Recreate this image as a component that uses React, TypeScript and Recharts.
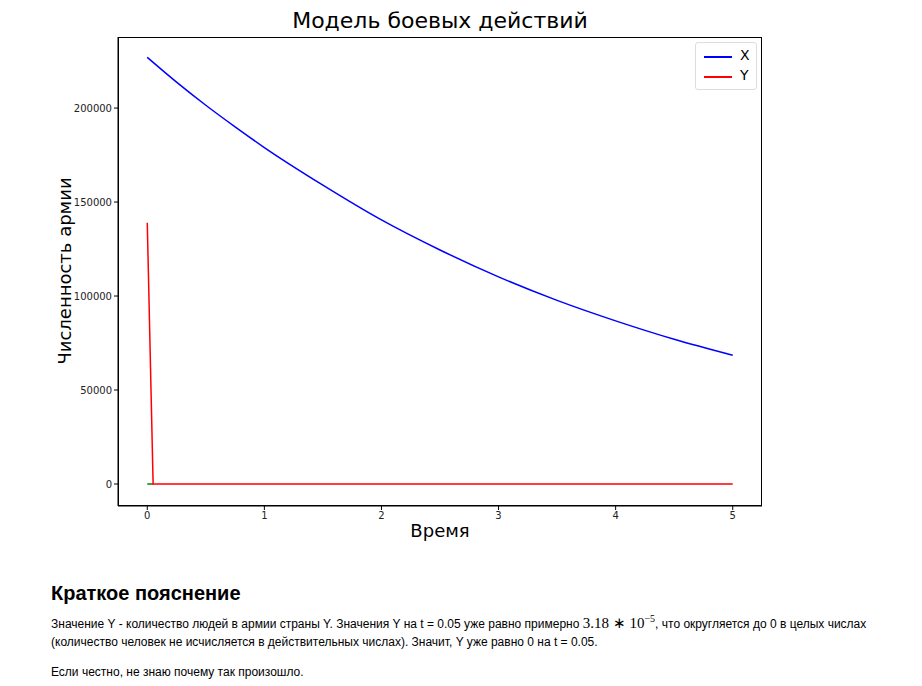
import React from "react";
import { LineChart, Line, XAxis, YAxis } from "recharts";

const times = [0, 0.05, 0.25, 0.5, 0.75, 1, 1.5, 2, 2.5, 3, 3.5, 4, 4.5, 5];
const armyX = [227000, 224300, 213800, 201500, 190000, 179000, 159000, 140500, 124500, 110200, 97700, 86800, 77000, 68500];
const armyY = [139000, 0, 0, 0, 0, 0, 0, 0, 0, 0, 0, 0, 0, 0];
const armyZ = [0, 0];
const xTicks = [0, 1, 2, 3, 4, 5];
const yTicks = [0, 50000, 100000, 150000, 200000];

const data = times.map((t, i) => ({ t, X: armyX[i], Y: armyY[i], Z: armyZ[i] }));

const tickStyle = { fontSize: 10, fill: "#222", fontFamily: "DejaVu Sans" };

export default function App() {
  return (
    <div style={{ fontFamily: "Liberation Sans, Arial, sans-serif", width: 906 }}>
      <div style={{ position: "relative", width: 780, height: 560 }}>
        <div style={{ position: "absolute", left: 110, width: 644, top: 0, textAlign: "center", fontSize: 22, fontFamily: "DejaVu Sans" }}>
          Модель боевых действий
        </div>
        <div style={{ position: "absolute", left: 56, top: 263, transform: "translate(-50%,-50%) rotate(-90deg)", whiteSpace: "nowrap", fontSize: 18, fontFamily: "DejaVu Sans" }}>
          Численность армии
        </div>
        <div style={{ position: "absolute", left: 110, width: 644, top: 512, textAlign: "center", fontSize: 18, fontFamily: "DejaVu Sans" }}>
          Время
        </div>
        <div style={{ position: "absolute", left: 110, top: 29, width: 644, height: 469, border: "1px solid #000", boxSizing: "border-box", pointerEvents: "none" }} />
        <div style={{ position: "absolute", left: 687, top: 34, width: 60, height: 46, border: "1px solid #ddd", borderRadius: 3, background: "#fff", zIndex: 2, fontFamily: "DejaVu Sans", fontSize: 14 }}>
          <div style={{ position: "absolute", left: 8, top: 13, width: 28, height: 2, background: "blue" }} />
          <div style={{ position: "absolute", left: 44, top: 4 }}>X</div>
          <div style={{ position: "absolute", left: 8, top: 33, width: 28, height: 2, background: "red" }} />
          <div style={{ position: "absolute", left: 44, top: 24 }}>Y</div>
        </div>
        <LineChart width={780} height={560} data={data} margin={{ top: 29, right: 26, left: 0, bottom: 32 }}>
          <XAxis dataKey="t" type="number" domain={[-0.25, 5.25]} ticks={xTicks} tick={tickStyle} stroke="#000" tickSize={4} height={30} />
          <YAxis type="number" domain={[-11700, 237800]} ticks={yTicks} tick={tickStyle} width={110} stroke="#000" tickSize={4} />
          <Line dataKey="Z" stroke="green" strokeWidth={1.5} dot={false} isAnimationActive={false} />
          <Line dataKey="X" stroke="blue" strokeWidth={1.5} dot={false} type="monotone" isAnimationActive={false} />
          <Line dataKey="Y" stroke="red" strokeWidth={1.5} dot={false} isAnimationActive={false} />
        </LineChart>
      </div>
      <div style={{ paddingLeft: 43, marginTop: 14 }}>
        <div style={{ fontSize: 20, fontWeight: "bold", marginBottom: 10 }}>Краткое пояснение</div>
        <div style={{ fontSize: 12, lineHeight: "18px" }}>
          Значение Y - количество людей в армии страны Y. Значения Y на t = 0.05 уже равно примерно{" "}
          <span style={{ fontFamily: "Liberation Serif, serif", fontSize: 15, lineHeight: 0 }}>3.18 ∗ 10<sup style={{ fontSize: 10, lineHeight: 0 }}>−5</sup></span>, что округляется до 0 в целых числах (количество человек не исчисляется в действительных числах). Значит, Y уже равно 0 на t = 0.05.
        </div>
        <div style={{ fontSize: 12, marginTop: 14 }}>Если честно, не знаю почему так произошло.</div>
      </div>
    </div>
  );
}
